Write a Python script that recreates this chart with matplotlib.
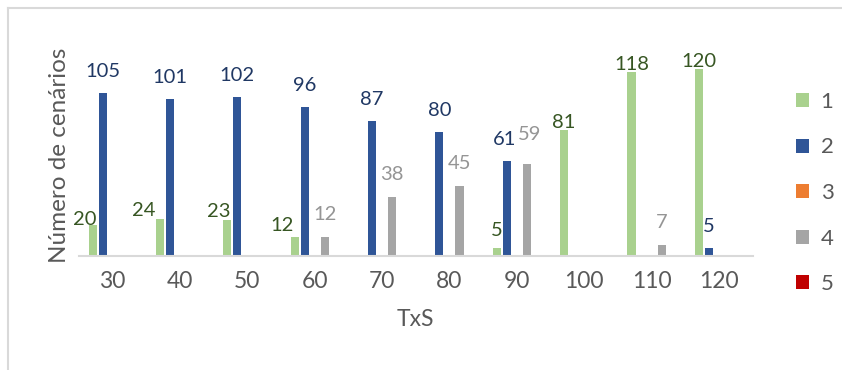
import numpy as np
import matplotlib.pyplot as plt
from matplotlib.lines import Line2D

# TxS categories and number of scenarios per class
categories = ['30', '40', '50', '60', '70', '80', '90', '100', '110', '120']
series_names = ['1', '2', '3', '4', '5']
s1 = [20, 24, 23, 12, 0, 0, 5, 81, 118, 120]
s2 = [105, 101, 102, 96, 87, 80, 61, 0, 0, 5]
s3 = [0, 0, 0, 0, 0, 0, 0, 0, 0, 0]
s4 = [0, 0, 0, 12, 38, 45, 59, 0, 7, 0]
s5 = [0, 0, 0, 0, 0, 0, 0, 0, 0, 0]

bar_colors = ['#A9D18E', '#2F5597', '#ED7D31', '#A5A5A5', '#C00000']
label_colors = ['#375623', '#203864', '#ED7D31', '#959595', '#C00000']
# label offsets in pixels (default gap per series, plus a few hand-moved labels)
label_gap = [2, 16, 16, 17, 16]
label_tweak = {(0, 0): (-8, -2), (0, 1): (-16, 1), (0, 2): (-9, 1),
               (0, 3): (-13, 4), (0, 6): (0, 10), (1, 6): (-2, 0), (3, 6): (3, 7)}

plt.rcParams['font.family'] = ['Lato', 'DejaVu Sans']
text_gray = '#595959'

fig = plt.figure(figsize=(8.42, 3.70), dpi=100)
ax = fig.add_axes([0.0938, 0.308, 0.8, 0.589])

series = [s1, s2, s3, s4, s5]
x = np.arange(len(categories))
step = 0.1486
width = 0.12
for i, vals in enumerate(series):
    xs = x + (i - 2) * step
    ax.bar(xs, vals, width=width, color=bar_colors[i], label=series_names[i])
    for j, v in enumerate(vals):
        if v == 0:
            continue
        dx, dy = label_tweak.get((i, j), (0, 0))
        ax.annotate(str(v), (xs[j], v), xytext=(dx, label_gap[i] + dy),
                    textcoords='offset pixels', ha='center', va='baseline',
                    fontsize=14.5, color=label_colors[i])

ax.set_xlim(-0.5, len(categories) - 0.5)
ax.set_ylim(0, 140)
ax.set_xticks(x)
ax.set_xticklabels(categories)
ax.set_yticks([])
ax.tick_params(axis='x', length=0, labelsize=16.5, colors=text_gray, pad=11)
for side in ['top', 'right', 'left']:
    ax.spines[side].set_visible(False)
ax.spines['bottom'].set_color('#D9D9D9')
ax.spines['bottom'].set_linewidth(1.5)

ax.set_xlabel('TxS', fontsize=16.5, color=text_gray, labelpad=12)
ax.set_ylabel('Número de cenários', fontsize=17.5, color=text_gray)
ax.yaxis.set_label_coords(-0.013, 0.46)

leg = ax.legend(loc='upper left', bbox_to_anchor=(1.035, 0.845), frameon=False,
                fontsize=16, handlelength=0.6, handleheight=0.6,
                labelspacing=1.15, handletextpad=0.5, labelcolor=text_gray)

# chart frame (left and top edges visible)
fig.add_artist(Line2D([8 / 842, 8 / 842], [0, 1 - 8 / 370], transform=fig.transFigure,
                      color='#D9D9D9', lw=1.5))
fig.add_artist(Line2D([8 / 842, 1], [1 - 8 / 370, 1 - 8 / 370], transform=fig.transFigure,
                      color='#D9D9D9', lw=1.5))

fig.savefig('out.png', dpi=100)
